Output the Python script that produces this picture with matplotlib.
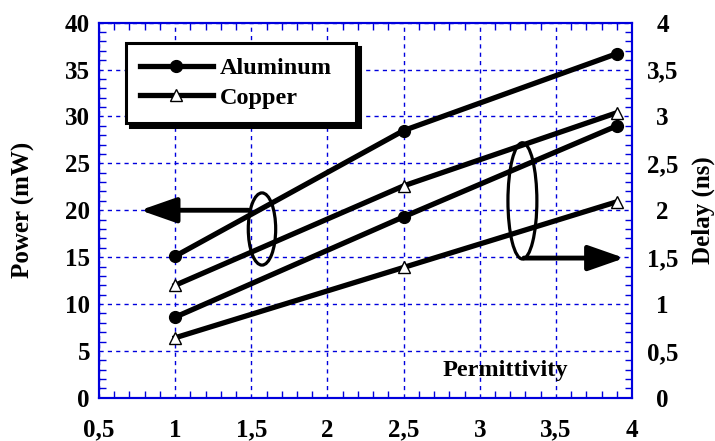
import matplotlib.pyplot as plt
from matplotlib.patches import Ellipse
from matplotlib.ticker import MultipleLocator, FuncFormatter

plt.rcParams['font.family'] = ['Liberation Serif', 'DejaVu Serif']
plt.rcParams['font.weight'] = 'bold'

permittivity = [1, 2.5, 3.9]
power_aluminum = [15.1, 28.5, 36.7]
power_copper = [12.0, 22.6, 30.4]
delay_aluminum = [0.86, 1.93, 2.9]
delay_copper = [0.64, 1.39, 2.09]

blue = '#0000dd'


def comma(v, pos):
    s = f"{v:g}"
    return s.replace('.', ',')


fig = plt.figure(figsize=(7.15, 4.41), dpi=100)
ax = fig.add_axes([0.1385, 0.098, 0.7455, 0.8505])
ax2 = ax.twinx()

ax.set_xlim(0.5, 4)
ax.set_ylim(0, 40)
ax2.set_ylim(0, 4)

# power on the left axis, delay on the right axis
ax.plot(permittivity, power_aluminum, color='k', lw=3.8, marker='o', ms=8.5,
        label='Aluminum', zorder=3)
ax.plot(permittivity, power_copper, color='k', lw=3.8, marker='^', ms=8.5,
        mfc='white', mec='k', mew=1, label='Copper', zorder=3)
ax2.plot(permittivity, delay_aluminum, color='k', lw=3.8, marker='o', ms=8.5, zorder=3)
ax2.plot(permittivity, delay_copper, color='k', lw=3.8, marker='^', ms=8.5,
         mfc='white', mec='k', mew=1, zorder=3)

ax.xaxis.set_major_locator(MultipleLocator(0.5))
ax.xaxis.set_minor_locator(MultipleLocator(0.1))
ax.yaxis.set_major_locator(MultipleLocator(5))
ax.yaxis.set_minor_locator(MultipleLocator(1))
ax2.yaxis.set_major_locator(MultipleLocator(0.5))
ax2.yaxis.set_minor_locator(MultipleLocator(0.1))
ax.xaxis.set_major_formatter(FuncFormatter(comma))
ax2.yaxis.set_major_formatter(FuncFormatter(comma))

ax.grid(True, which='major', color=blue, ls=(0, (3, 3)), lw=1)
ax.set_axisbelow(True)

for a in (ax, ax2):
    for sp in a.spines.values():
        sp.set_color(blue)
        sp.set_linewidth(1.5)
ax.tick_params(which='both', direction='in', color=blue, top=True, right=False)
ax.tick_params(which='major', length=0, labelsize=18, pad=6.5)
ax.tick_params(which='minor', length=5, width=1)
ax.tick_params(axis='x', which='major', pad=15)
ax2.tick_params(which='both', direction='in', color=blue)
ax2.tick_params(which='major', length=0, labelsize=18, pad=22)
ax2.tick_params(which='minor', length=5, width=1)
for lab in ax2.get_yticklabels():
    lab.set_horizontalalignment('center')

ax.set_ylabel('Power (mW)', fontsize=18, fontweight='bold')
ax.yaxis.set_label_coords(-0.12, 0.5)
ax2.set_ylabel('Delay (ns)', fontsize=18, fontweight='bold', rotation=90)
ax2.yaxis.set_label_coords(1.111, 0.5)

ax.text(3.17, 2.95, 'Permittivity', fontsize=17.5, fontweight='bold',
        ha='center', va='center', zorder=4)

leg = ax.legend(loc='upper left', bbox_to_anchor=(0.05, 0.5, 0.4315, 0.446),
                mode='expand', borderaxespad=0,
                fancybox=False, edgecolor='k', framealpha=1, fontsize=17.5,
                handlelength=3.0, handletextpad=0.3, borderpad=0.58,
                labelspacing=0.32,
                shadow={'color': 'k', 'alpha': 1, 'ox': 3, 'oy': -3})
leg.get_frame().set_linewidth(2.2)
leg.set_zorder(10)

# ellipses and arrows
ax.add_patch(Ellipse((1.57, 18.0), 0.18, 7.7, fill=False, ec='k', lw=2.3, zorder=4))
ax.annotate('', xy=(0.77, 20), xytext=(1.48, 20),
            arrowprops=dict(arrowstyle='-|>,head_length=1.0,head_width=0.35',
                            mutation_scale=22, lw=3.5, color='k',
                            shrinkA=0, shrinkB=0), zorder=4)
ax.add_patch(Ellipse((3.28, 21.0), 0.19, 12.4, fill=False, ec='k', lw=2.3, zorder=4))
ax.annotate('', xy=(3.95, 14.9), xytext=(3.29, 14.9),
            arrowprops=dict(arrowstyle='-|>,head_length=1.0,head_width=0.35',
                            mutation_scale=22, lw=3.5, color='k',
                            shrinkA=0, shrinkB=0), zorder=4)

fig.savefig('out.png', dpi=100)
